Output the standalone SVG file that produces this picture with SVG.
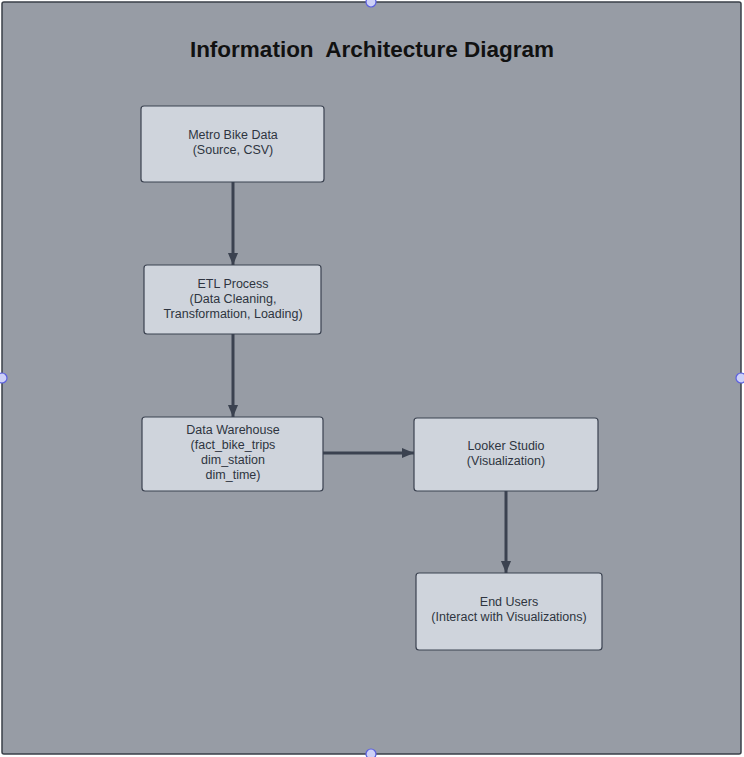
<svg xmlns="http://www.w3.org/2000/svg" width="744" height="757" viewBox="0 0 744 757">
<style>
.frame{fill:#979ca5;stroke:#3a3f48;stroke-width:1.5}
.handle{fill:#cdd0f7;stroke:#5a5fe0;stroke-width:1.2}
.node rect{fill:#cfd4dc;stroke:#3b4250;stroke-width:1.2}
.node text{font-family:"Liberation Sans",Arial,sans-serif;font-size:12.5px;fill:#2e3440;text-anchor:middle}
.title{font-family:"Liberation Sans",Arial,sans-serif;font-size:22.5px;font-weight:bold;fill:#111;text-anchor:middle}
.edge{stroke:#3b4250;stroke-width:3;fill:none;marker-end:url(#ah)}
</style>
<defs>
<marker id="ah" viewBox="0 0 10 10" refX="10" refY="5" markerWidth="4" markerHeight="4" orient="auto" markerUnits="strokeWidth">
<path d="M0,0.8 L10,5 L0,9.2 z" fill="#3b4250"/>
</marker>
</defs>
<rect class="frame" x="2" y="2" width="739" height="752" rx="2"/>
<text class="title" x="372" y="57" xml:space="preserve">Information  Architecture Diagram</text>
<g id="connectors">
<line class="edge" x1="233" y1="182" x2="233" y2="265"/>
<line class="edge" x1="233" y1="334" x2="233" y2="417"/>
<line class="edge" x1="323" y1="453" x2="414" y2="453"/>
<line class="edge" x1="506" y1="491" x2="506" y2="573"/>
</g>
<g id="metro" class="node">
<rect x="141" y="106" width="183" height="76" rx="3"/>
<text x="233" y="139">Metro Bike Data</text>
<text x="233" y="154">(Source, CSV)</text>
</g>
<g id="etl" class="node">
<rect x="144" y="265" width="177" height="69" rx="3"/>
<text x="233" y="288">ETL Process</text>
<text x="233" y="303">(Data Cleaning,</text>
<text x="233" y="318">Transformation, Loading)</text>
</g>
<g id="warehouse" class="node">
<rect x="142" y="417" width="181" height="74" rx="3"/>
<text x="233" y="434">Data Warehouse</text>
<text x="233" y="449">(fact_bike_trips</text>
<text x="233" y="464">dim_station</text>
<text x="233" y="479">dim_time)</text>
</g>
<g id="looker" class="node">
<rect x="414" y="418" width="184" height="73" rx="3"/>
<text x="506" y="450">Looker Studio</text>
<text x="506" y="465">(Visualization)</text>
</g>
<g id="users" class="node">
<rect x="416" y="573" width="186" height="77" rx="3"/>
<text x="509" y="606">End Users</text>
<text x="509" y="621">(Interact with Visualizations)</text>
</g>
<g id="handles">
<circle class="handle" cx="371" cy="2" r="5"/>
<circle class="handle" cx="2" cy="378" r="5"/>
<circle class="handle" cx="741" cy="378" r="5"/>
<circle class="handle" cx="371" cy="754" r="5"/>
</g>
</svg>
